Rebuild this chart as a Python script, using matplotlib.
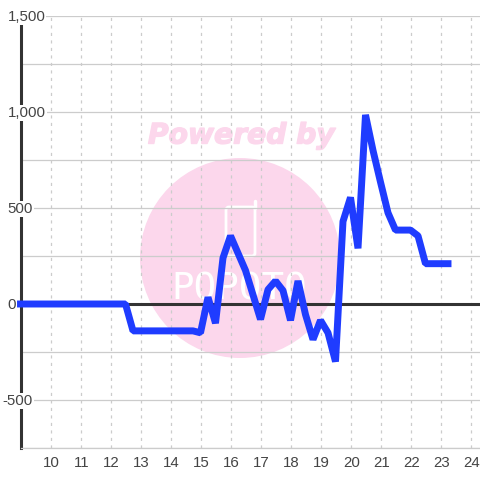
import matplotlib
matplotlib.use("Agg")
import matplotlib.pyplot as plt
import matplotlib.patheffects as pe
from matplotlib.patches import Circle, FancyBboxPatch
from matplotlib.transforms import IdentityTransform, ScaledTranslation

hours = [9, 12.5, 12.75, 14.75, 15, 15.25, 15.5, 15.75, 16, 16.5, 17, 17.25, 17.5, 17.75, 18,
         18.25, 18.5, 18.75, 19, 19.25, 19.5, 19.75, 20, 20.25, 20.5, 20.75, 21, 21.25, 21.5,
         22, 22.25, 22.5, 23.25]
values = [0, 0, -140, -140, -150, 35, -100, 240, 355, 175, -80, 75, 120, 70, -85,
          120, -55, -185, -85, -150, -300, 430, 555, 290, 985, 800, 635, 475, 385,
          385, 355, 210, 210]

x_ticks = list(range(10, 25))
y_grid = [-750, -500, -250, 0, 250, 500, 750, 1000, 1250, 1500]
y_labels = {1500: "1,500", 1000: "1,000", 500: "500", 0: "0", -500: "-500"}

text_color = "#444444"
grid_color = "#cccccc"
pink = "#fcd7ec"

plt.rcParams["font.family"] = ["Liberation Sans", "DejaVu Sans"]

fig = plt.figure(figsize=(4.8, 4.8), dpi=100)
ax = fig.add_axes([20.5 / 480, 32 / 480, 459.5 / 480, 432 / 480])
ax.set_xlim(9, 9 + 459.5 / 30)
ax.set_ylim(-750, 1500)

# watermark, pixel coordinates from bottom left
px = IdentityTransform()
ax.add_patch(Circle((240, 480 - 258), 100, transform=px, facecolor=pink, edgecolor="none", zorder=0))
ax.add_patch(FancyBboxPatch((226, 480 - 256), 29, 49, boxstyle="round,pad=0,rounding_size=3", transform=px,
                            facecolor="none", edgecolor="white", linewidth=2, zorder=0.5))
ax.plot([255, 255], [480 - 208, 480 - 201], transform=px, color="white", linewidth=2.5,
        solid_capstyle="round", zorder=0.5)
ax.text(241.5, 480 - 135.5, "Powered by", transform=px, ha="center", va="center", color=pink,
        fontsize=20.3, family="DejaVu Sans", weight="bold", style="italic", zorder=0.5,
        path_effects=[pe.withStroke(linewidth=1, foreground=pink)])
ax.text(239, 480 - 290, "POPOTO", transform=px, ha="center", va="center", color="white",
        fontsize=27, family="DejaVu Sans Mono", zorder=0.5)

ax.set_xticks(x_ticks)
ax.set_yticks(y_grid)
ax.set_yticklabels([])
ax.set_axisbelow(True)
ax.grid(axis="y", color=grid_color, linewidth=0.9, linestyle="-", zorder=1)
ax.grid(axis="x", color=grid_color, linewidth=0.9, linestyle=(0, (2.5, 3.5)), zorder=1)
ax.tick_params(length=0)
ax.tick_params(axis="x", labelsize=10.8, labelcolor=text_color, pad=5.5)
ax.tick_params(axis="y", labelleft=False)

# x labels sit one pixel right of their gridlines
for label in ax.get_xticklabels():
    label.set_transform(label.get_transform() + ScaledTranslation(1 / 100, 0, fig.dpi_scale_trans))

for side in ["top", "right"]:
    ax.spines[side].set_visible(False)
ax.spines["bottom"].set_color(grid_color)
ax.spines["bottom"].set_linewidth(0.9)
ax.spines["left"].set_color("#333333")
ax.spines["left"].set_linewidth(2.2)

ax.axhline(0, color="#333333", linewidth=2.2, zorder=2)

for v, lab in y_labels.items():
    off = -13 if v >= 0 else -18
    ax.annotate(lab, xy=(0, v), xycoords=ax.get_yaxis_transform(), xytext=(off, -1),
                textcoords="offset pixels", ha="left", va="center", fontsize=10.8, color=text_color,
                bbox=dict(facecolor="white", edgecolor="none", pad=0.8), annotation_clip=False, zorder=3)

ax.plot(hours, values, color="#1f3cff", linewidth=5, solid_joinstyle="bevel",
        solid_capstyle="projecting", clip_on=False, zorder=4)

fig.savefig("out.png", dpi=100)
